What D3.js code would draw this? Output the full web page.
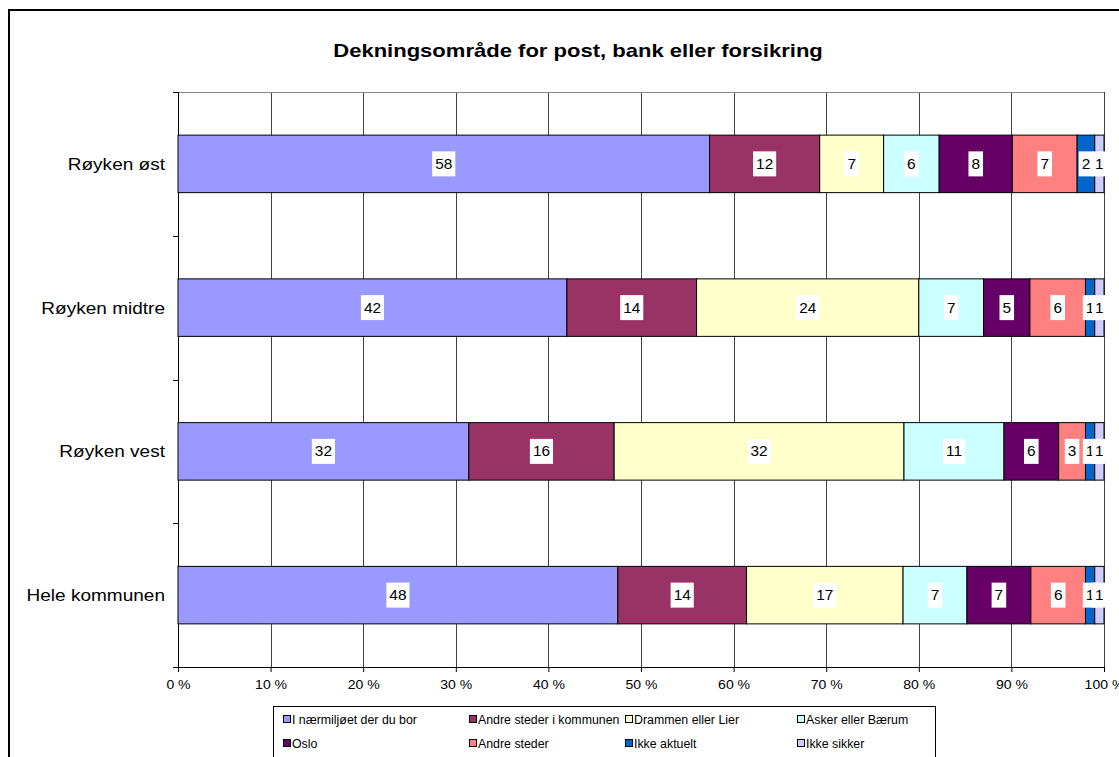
<!DOCTYPE html>
<html>
<head>
<meta charset="utf-8">
<script src="https://cdn.jsdelivr.net/npm/d3@7"></script>
<style>
  body { margin: 0; background: #fff; }
  svg { display: block; font-family: "Liberation Sans", Arial, sans-serif; }
</style>
</head>
<body>
<svg id="chart"></svg>
<script>
// data
const categories = ["Røyken øst", "Røyken midtre", "Røyken vest", "Hele kommunen"]
const seriesNames = ["I nærmiljøet der du bor", "Andre steder i kommunen", "Drammen eller Lier", "Asker eller Bærum",
  "Oslo", "Andre steder", "Ikke aktuelt", "Ikke sikker"]
const seriesColors = ["#9999FF", "#993366", "#FFFFCC", "#CCFFFF", "#660066", "#FF8080", "#0066CC", "#CCCCFF"]

// percent per series
const roykenOst = [57.4, 11.9, 6.9, 6.0, 7.9, 7.0, 1.9, 1.0]
const roykenMidtre = [42.0, 14.0, 24.0, 7.0, 5.0, 6.0, 1.0, 1.0]
const roykenVest = [31.4, 15.7, 31.3, 10.8, 5.9, 2.9, 1.0, 1.0]
const heleKommunen = [47.5, 13.9, 16.9, 6.9, 6.9, 5.9, 1.0, 1.0]
// data labels as printed on the chart
const labelsOst = [58, 12, 7, 6, 8, 7, 2, 1]
const labelsMidtre = [42, 14, 24, 7, 5, 6, 1, 1]
const labelsVest = [32, 16, 32, 11, 6, 3, 1, 1]
const labelsHele = [48, 14, 17, 7, 7, 6, 1, 1]
const xTicks = [0, 10, 20, 30, 40, 50, 60, 70, 80, 90, 100]

const rows = [roykenOst, roykenMidtre, roykenVest, heleKommunen]
const rowLabels = [labelsOst, labelsMidtre, labelsVest, labelsHele]

const width = 1119
const height = 757
const plot = { left: 178, right: 1104, top: 92, bottom: 667 }

// the original text is drawn a bit wider than plain Arial
const stretch = 1.1

const svg = d3.select('svg#chart').attr('width', width).attr('height', height)

// outer frame
svg.append('rect')
  .attr('x', 9).attr('y', 10).attr('width', 1200).attr('height', 800)
  .attr('fill', 'none').attr('stroke', '#000').attr('stroke-width', 2)

svg.append('text')
  .attr('transform', 'translate(578,57) scale(1.16,1)')
  .attr('text-anchor', 'middle')
  .attr('font-weight', 'bold')
  .attr('font-size', 19)
  .text('Dekningsområde for post, bank eller forsikring')

const xScale = d3.scaleLinear().domain([0, 100]).range([plot.left, plot.right])
const yScale = d3.scaleBand().domain(categories).range([plot.top, plot.bottom])
  .paddingInner(0.6).paddingOuter(0.3)

// grid
svg.append('g').selectAll('line').data(xTicks.slice(1)).enter().append('line')
  .attr('x1', d => Math.round(xScale(d)) + 0.5).attr('x2', d => Math.round(xScale(d)) + 0.5)
  .attr('y1', plot.top).attr('y2', plot.bottom)
  .attr('stroke', '#444').attr('stroke-width', 1)
svg.append('line')
  .attr('x1', plot.left - 5).attr('x2', plot.right).attr('y1', plot.top + 0.5).attr('y2', plot.top + 0.5)
  .attr('stroke', '#888')

// x axis
const xAxis = svg.append('g')
  .attr('transform', 'translate(0,' + plot.bottom + ')')
  .call(d3.axisBottom(xScale).tickValues(xTicks).tickSize(5).tickPadding(8).tickFormat(d => d + ' %'))
xAxis.select('.domain').attr('stroke', '#000')
xAxis.selectAll('line').attr('stroke', '#000')
xAxis.selectAll('text')
  .attr('font-size', 13).attr('font-family', '"Liberation Sans", Arial, sans-serif').attr('fill', '#000')
  .attr('transform', 'scale(' + 1.08 + ',1)')

// y axis with ticks at band boundaries
const bounds = d3.range(categories.length + 1).map(i => plot.top + i * yScale.step())
svg.append('line')
  .attr('x1', plot.left + 0.5).attr('x2', plot.left + 0.5).attr('y1', plot.top).attr('y2', plot.bottom + 5)
  .attr('stroke', '#000')
svg.append('g').selectAll('line').data(bounds).enter().append('line')
  .attr('x1', plot.left - 5).attr('x2', plot.left)
  .attr('y1', d => Math.round(d) + 0.5).attr('y2', d => Math.round(d) + 0.5)
  .attr('stroke', '#000')
svg.append('g').selectAll('text').data(categories).enter().append('text')
  .attr('transform', d => 'translate(' + (plot.left - 13) + ',' + (yScale(d) + yScale.bandwidth() / 2) + ') scale(1.12,1)')
  .attr('dy', '0.35em')
  .attr('text-anchor', 'end')
  .attr('font-size', 17)
  .text(d => d)

// stacked bars
const segments = []
rows.forEach((vals, r) => {
  let acc = 0
  vals.forEach((v, s) => {
    segments.push({ cat: categories[r], s: s, x0: acc, x1: acc + v, label: rowLabels[r][s] })
    acc += v
  })
})

svg.append('g').selectAll('rect').data(segments).enter().append('rect')
  .attr('x', d => xScale(d.x0))
  .attr('y', d => yScale(d.cat))
  .attr('width', d => xScale(d.x1) - xScale(d.x0))
  .attr('height', yScale.bandwidth())
  .attr('fill', d => seriesColors[d.s])
  .attr('stroke', '#000').attr('stroke-width', 1)

// data labels with white boxes
const lab = svg.append('g').selectAll('g').data(segments).enter().append('g')
  .attr('transform', d => 'translate(' + (xScale((d.x0 + d.x1) / 2)) + ',' + (yScale(d.cat) + yScale.bandwidth() / 2) + ')')
lab.append('text')
  .attr('text-anchor', 'middle').attr('dy', '0.36em')
  .attr('font-size', 14)
  .attr('transform', 'scale(' + stretch + ',1)')
  .text(d => d.label)
lab.each(function () {
  const g = d3.select(this)
  const b = g.select('text').node().getBBox()
  const w = b.width * stretch
  g.insert('rect', 'text')
    .attr('x', -w / 2 - 3).attr('y', -12.5).attr('width', w + 6).attr('height', 25)
    .attr('fill', '#fff')
})

// legend
const legendCols = [283, 469, 625, 797]
const legendRows = [720, 744]
svg.append('rect')
  .attr('x', 273.5).attr('y', 706.5).attr('width', 662).attr('height', 60)
  .attr('fill', '#fff').attr('stroke', '#000')
const leg = svg.append('g').selectAll('g').data(seriesNames).enter().append('g')
  .attr('transform', (d, i) => 'translate(' + legendCols[i % 4] + ',' + legendRows[Math.floor(i / 4)] + ')')
leg.append('rect')
  .attr('x', 0.5).attr('y', -4.5).attr('width', 7).attr('height', 7)
  .attr('fill', (d, i) => seriesColors[i]).attr('stroke', '#000')
leg.append('text')
  .attr('transform', 'translate(9,0) scale(1.03,1)')
  .attr('dy', '0.35em')
  .attr('font-size', 12)
  .text(d => d)
</script>
</body>
</html>
